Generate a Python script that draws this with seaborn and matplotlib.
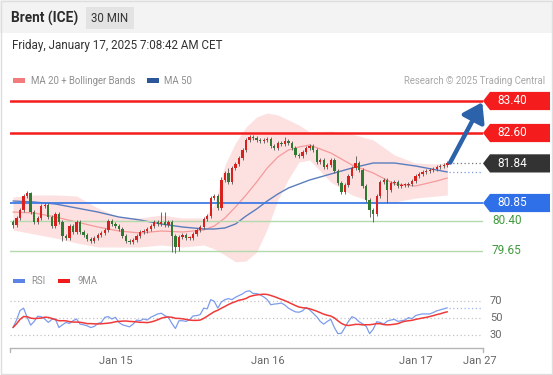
import matplotlib
matplotlib.use("Agg")
import matplotlib.pyplot as plt
import matplotlib.transforms as mtransforms
from matplotlib.patches import Rectangle
from matplotlib.path import Path
import numpy as np
import pandas as pd
import seaborn as sns

# --- price data (30 min candles, closes) ---
closes = [
    80.30, 80.475, 80.675, 81.025, 81.10, 80.625, 80.375, 80.475, 80.775, 80.80,
    80.50, 80.275, 80.575, 80.375, 80.025, 79.975, 80.275, 80.125, 80.375, 80.125,
    80.05, 79.95, 79.90, 79.975, 80.05, 80.10, 80.175, 80.40, 80.325, 80.275,
    80.20, 80.025, 79.90, 79.875, 79.925, 80.025, 80.125, 80.15, 80.20, 80.275,
    80.375, 80.325, 80.375, 80.30, 80.375, 80.025, 79.75, 80.00, 80.05, 79.975,
    79.975, 80.075, 80.175, 80.25, 80.45, 80.525, 80.975, 81.025, 80.725, 81.425,
    81.60, 81.375, 81.725, 81.825, 81.975, 82.175, 82.425, 82.50, 82.475, 82.425,
    82.40, 82.425, 82.45, 82.275, 82.225, 82.35, 82.325, 82.40, 82.35, 82.225,
    82.05, 82.025, 82.125, 82.225, 82.275, 82.175, 81.875, 81.925, 81.75, 81.80,
    81.925, 81.65, 81.35, 81.125, 81.30, 81.525, 81.725, 81.85, 81.675, 81.275,
    80.925, 80.675, 80.575, 81.025, 81.375, 81.425, 81.175, 81.35, 81.375, 81.275,
    81.30, 81.30, 81.325, 81.40, 81.525, 81.575, 81.625, 81.65, 81.675, 81.70,
    81.75, 81.775, 81.80, 81.84,
]
first_open = 80.38
# long wicks visible on the chart (candle index -> price)
wick_highs = {4: 81.15, 5: 81.12, 42: 80.62, 43: 80.62, 59: 81.50, 61: 81.72,
              77: 82.50, 97: 82.02}
wick_lows = {0: 80.22, 14: 79.90, 45: 79.62, 46: 79.60, 47: 79.65,
             101: 80.50, 102: 80.38, 106: 80.85}

# indicators read at these candle indices
ind_idx = [0, 6, 12, 18, 24, 30, 36, 42, 48, 54, 57, 60, 63, 66, 69, 72, 75, 78,
           81, 84, 90, 96, 102, 108, 114, 120, 123]
bb_upper = [81.00, 81.05, 81.05, 81.025, 80.725, 80.50, 80.475, 80.55, 80.475,
            80.475, 80.80, 81.80, 82.35, 82.75, 83.00, 83.10, 83.05, 82.925,
            82.80, 82.625, 82.65, 82.575, 82.425, 82.05, 81.85, 81.825, 81.875]
bb_lower = [80.175, 80.075, 79.975, 79.85, 79.75, 79.75, 79.75, 79.80, 79.75,
            79.80, 79.70, 79.55, 79.38, 79.40, 79.625, 80.20, 80.925, 81.45,
            81.875, 81.925, 81.375, 81.05, 80.875, 80.875, 80.975, 81.025, 81.05]
ma20 = [80.625, 80.60, 80.50, 80.375, 80.25, 80.15, 80.10, 80.15, 80.125, 80.175,
        80.275, 80.475, 80.75, 81.05, 81.375, 81.725, 82.00, 82.175, 82.25, 82.30,
        82.10, 81.80, 81.60, 81.325, 81.275, 81.40, 81.475]
ma50 = [80.90, 80.875, 80.825, 80.725, 80.625, 80.50, 80.425, 80.325, 80.25, 80.20,
        80.20, 80.225, 80.325, 80.525, 80.70, 80.90, 81.075, 81.225, 81.325, 81.425,
        81.575, 81.725, 81.85, 81.85, 81.775, 81.675, 81.625]

rsi = [
    38.8, 47.6, 58.8, 61.6, 50.8, 41.6, 46, 52, 51.6, 48.8,
    44.8, 48.4, 48.8, 38.8, 42, 44.8, 43.6, 46.8, 48.8, 42.8,
    42, 40.8, 38.8, 40, 43.6, 44.8, 50.8, 51.6, 48.8, 50.8,
    44.8, 42, 40.8, 39.6, 42.8, 47.6, 46.8, 48.8, 47.6, 50.8,
    52.8, 54.8, 55.6, 52.8, 50.8, 43.6, 37.6, 46.8, 46.8, 46,
    48, 52.4, 52.8, 54, 61.6, 60.8, 71.6, 69.6, 61.6, 68.8,
    71.6, 72.8, 71.6, 74.4, 76.4, 78.4, 81.2, 82, 78.8, 78.8,
    77.2, 74.8, 71.6, 65.6, 66.4, 66.8, 67.6, 65.2, 61.6, 59.2,
    57.2, 56.8, 58.4, 62.4, 59.6, 55.6, 51.6, 46, 42.8, 46,
    48.4, 38.8, 31.6, 32, 38.8, 46, 51.6, 49.6, 45.6, 43.2,
    40.4, 31.6, 36.8, 45.6, 44.8, 42.8, 46.4, 47.6, 48.4, 46,
    46.8, 47.6, 50.4, 49.2, 52.8, 54, 54.8, 54.8, 54.8, 56.4,
    58.4, 59.6, 60.8, 62,
]

resistances = [83.40, 82.60]
last_price = 81.84
support_blue = 80.85
supports_green = [80.40, 79.65]
target = 83.40

date_ticks = [29, 72.2, 114.2, 132.3]
date_labels = ["Jan 15", "Jan 16", "Jan 17", "Jan 27"]
rsi_levels = [70, 50, 30]

sns.set_theme(style="white")
plt.rcParams["font.family"] = ["Roboto", "DejaVu Sans"]

W, H = 553, 375
fig = plt.figure(figsize=(W / 100, H / 100), dpi=100)
fig.patch.set_facecolor("white")


def fx(px):
    return px / W


def fy(py):
    return 1 - py / H


XMIN, XMAX = -0.85, 133.1

# header + frame
fig.add_artist(Rectangle((0, fy(33)), 1, 33 / H, transform=fig.transFigure,
                         facecolor="#f3f3f3", edgecolor="none", zorder=0))
fig.add_artist(Rectangle((fx(86), fy(29)), 48 / W, 22 / H, transform=fig.transFigure,
                         facecolor="#e3e3e3", edgecolor="none", zorder=1))
fig.add_artist(Rectangle((0.001, 0.002), 0.997, 0.996, transform=fig.transFigure,
                         facecolor="none", edgecolor="#dedede", lw=1, zorder=5))
fig.text(fx(11), fy(18), "Brent (ICE)", fontsize=9.8, fontweight="bold",
         color="#2b2b2b", va="center")
fig.text(fx(110), fy(18), "30 MIN", fontsize=8.3, color="#333333",
         va="center", ha="center")
fig.text(fx(12), fy(45), "Friday, January 17, 2025 7:08:42 AM CET", fontsize=8.4,
         color="#333333", va="center")

# legends
fig.add_artist(Rectangle((fx(13), fy(82.5)), 12 / W, 4 / H, transform=fig.transFigure,
                         facecolor="#f27c7c", edgecolor="none"))
fig.text(fx(31), fy(80.5), "MA 20 + Bollinger Bands", fontsize=6.9, color="#8f8f8f",
         va="center")
fig.add_artist(Rectangle((fx(147), fy(82.5)), 12 / W, 4 / H, transform=fig.transFigure,
                         facecolor="#2b579a", edgecolor="none"))
fig.text(fx(164), fy(80.5), "MA 50", fontsize=6.9, color="#8f8f8f", va="center")
fig.text(fx(545), fy(80.5), "Research \u00a9 2025 Trading Central", fontsize=6.9,
         color="#a8a8a8", va="center", ha="right")

fig.add_artist(Rectangle((fx(13), fy(282.5)), 12 / W, 4 / H, transform=fig.transFigure,
                         facecolor="#5b84e6", edgecolor="none"))
fig.text(fx(31), fy(280.5), "RSI", fontsize=6.9, color="#8f8f8f", va="center")
fig.add_artist(Rectangle((fx(58), fy(282.5)), 12 / W, 4 / H, transform=fig.transFigure,
                         facecolor="#ee1c1c", edgecolor="none"))
fig.text(fx(77), fy(280.5), "9MA", fontsize=6.9, color="#8f8f8f", va="center")

# ---------------- price panel ----------------
ax = fig.add_axes([fx(10), fy(262), fx(483) - fx(10), (262 - 90) / H])
ax.set_facecolor("none")
ax.set_xlim(XMIN, XMAX)
ax.set_ylim(79.375, 83.675)
ax.axis("off")

ax.fill_between(ind_idx, bb_lower, bb_upper, color="#fde1e1", lw=0, zorder=1)
ind_df = pd.DataFrame({"idx": ind_idx, "ma20": ma20, "ma50": ma50})
sns.lineplot(data=ind_df, x="idx", y="ma20", ax=ax, color="#f59a9a", lw=0.9, zorder=2)
sns.lineplot(data=ind_df, x="idx", y="ma50", ax=ax, color="#5a7dbd", lw=1.0, zorder=2)

for lvl in resistances:
    ax.axhline(lvl, color="#f41c1c", lw=1.8, zorder=3)
ax.axhline(support_blue, color="#3f7be4", lw=1.3, zorder=3)
for lvl in supports_green:
    ax.axhline(lvl, color="#b3d9ac", lw=1.0, zorder=3)

n = len(closes)
xs = np.arange(n)
c = np.array(closes)
o = np.array([first_open] + closes[:-1])
hi = np.maximum(o, c) + 0.05
lo = np.minimum(o, c) - 0.05
for i, v in wick_highs.items():
    hi[i] = v
for i, v in wick_lows.items():
    lo[i] = v
colors = np.where(c >= o, "#d8201f", "#2f7a30")
ax.vlines(xs, lo, hi, color="#555555", lw=0.6, zorder=4)
ax.bar(xs, np.maximum(np.abs(c - o), 0.018), bottom=np.minimum(o, c), width=0.66,
       color=colors, edgecolor="none", linewidth=0, zorder=5)

# projections right of the last candle
ax.hlines(last_price, n - 0.5, XMAX, colors="#777777", linestyles=(0, (1, 2)), lw=0.9)
ax.hlines(ma50[-1], n - 0.5, XMAX, colors="#7b9be0", linestyles=(0, (1, 2)), lw=0.9)
ax.annotate("", xy=(XMAX - 0.2, target - 0.03), xytext=(n - 0.2, last_price + 0.02),
            arrowprops=dict(arrowstyle="-|>,head_length=0.75,head_width=0.5",
                            color="#2c62aa", lw=3.2, shrinkA=0, shrinkB=0,
                            mutation_scale=15),
            annotation_clip=False, zorder=6)


def tag_box(x0, y0, width, height, mutation_size):
    pad_y = 0.22 * mutation_size
    tip = x0 - 14
    left = x0 - 7
    right = x0 + 53
    y0b, y1b = y0 - pad_y, y0 + height + pad_y
    ym = (y0b + y1b) / 2
    verts = [(tip, ym), (left, y1b), (right, y1b), (right, y0b), (left, y0b), (tip, ym)]
    return Path(verts, closed=True)


lab_tr = mtransforms.blended_transform_factory(fig.transFigure, ax.transData)
tags = [(lvl, "#f41c1c") for lvl in resistances]
tags += [(last_price, "#333333"), (support_blue, "#2f6fe8")]
for lvl, col in tags:
    ax.text(fx(497), lvl, f"{lvl:.2f}", transform=lab_tr, fontsize=8.5, color="white",
            va="center", ha="left", clip_on=False,
            bbox=dict(boxstyle=tag_box, facecolor=col, edgecolor="none"))
for lvl in supports_green:
    ax.text(fx(492), lvl, f"{lvl:.2f}", transform=lab_tr, fontsize=8.5,
            color="#3f9a3f", va="center", ha="left", clip_on=False)

# ---------------- RSI panel ----------------
ax_rsi = fig.add_axes([fx(10), fy(348), fx(483) - fx(10), (348 - 288) / H])
ax_rsi.set_facecolor("none")
ax_rsi.set_xlim(XMIN, XMAX)
ax_rsi.set_ylim(14.7, 85.3)

rsi_df = pd.DataFrame({"idx": np.arange(len(rsi)), "rsi": rsi})
rsi_df["ma9"] = rsi_df["rsi"].rolling(9, min_periods=1).mean()
for lvl in rsi_levels:
    ax_rsi.axhline(lvl, color="#c4c4c4", lw=0.9, linestyle=(0, (1, 2)), zorder=1)
sns.lineplot(data=rsi_df, x="idx", y="rsi", ax=ax_rsi, color="#7d9cec", lw=0.9, zorder=3)
sns.lineplot(data=rsi_df, x="idx", y="ma9", ax=ax_rsi, color="#f03a3a", lw=1.1, zorder=3)
ax_rsi.hlines(rsi[-1], len(rsi) - 0.5, XMAX, colors="#9db4f0",
              linestyles=(0, (1, 2)), lw=0.9)

rsi_tr = mtransforms.blended_transform_factory(fig.transFigure, ax_rsi.transData)
for lvl in rsi_levels:
    ax_rsi.text(fx(490), lvl, str(lvl), transform=rsi_tr, fontsize=8, color="#666666",
                va="center", ha="left", clip_on=False)

for side in ["top", "right", "left"]:
    ax_rsi.spines[side].set_visible(False)
ax_rsi.spines["bottom"].set_color("#b5b5b5")
ax_rsi.spines["bottom"].set_linewidth(1.0)
ax_rsi.set_yticks([])
ax_rsi.set_xticks(date_ticks, date_labels)
ax_rsi.tick_params(axis="x", length=0, pad=6, labelsize=8, labelcolor="#666666")
ax_rsi.set_xlabel("")
ax_rsi.set_ylabel("")
for xe in [0, 1]:
    ax_rsi.plot([xe, xe], [0, -0.07], transform=ax_rsi.transAxes, color="#b5b5b5",
                lw=1.0, clip_on=False)

fig.savefig("out.png", dpi=100)
